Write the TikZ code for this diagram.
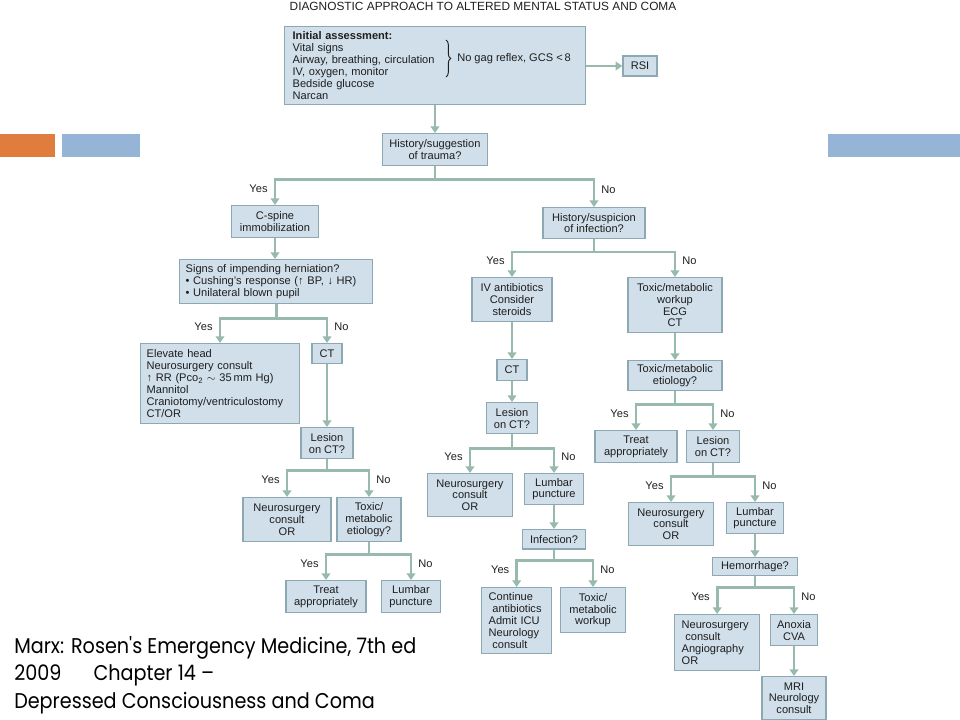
\documentclass[tikz,border=0pt]{standalone}
\usepackage{fontspec}
\setmainfont{Liberation Sans}
\newfontfamily\citefont[FakeStretch=0.9]{Poppins}
\usetikzlibrary{arrows.meta,decorations.pathreplacing}

\definecolor{boxfill}{RGB}{208,223,234}
\definecolor{boxline}{RGB}{140,168,178}
\definecolor{flowline}{RGB}{152,186,172}
\definecolor{textgray}{RGB}{30,30,30}
\definecolor{barorange}{RGB}{224,125,62}
\definecolor{barblue}{RGB}{150,180,214}

\begin{document}
\begin{tikzpicture}[
        x=0.75pt, y=-0.75pt,
        font=\fontsize{8.3}{8.9}\selectfont,
        every node/.style={text=textgray},
        box/.style={draw=boxline, fill=boxfill, line width=1pt, align=center, inner sep=0pt},
        lbox/.style={box, align=left, anchor=north west, inner ysep=0pt},
        arrow/.style={-{Triangle[width=6.5pt,length=5pt]}, draw=flowline, line width=2.2pt},
        yes/.style={pos=0.68, left, inner xsep=4.5pt},
        no/.style={pos=0.68, right, inner xsep=4.5pt}
    ]
    \useasboundingbox (0,0) rectangle (960,720);

    % Slide bars
    \fill[barorange] (0,134) rectangle (55,157);
    \fill[barblue] (62,134) rectangle (140,157);
    \fill[barblue] (828,134) rectangle (960,157);

    % Title
    \node[font=\fontsize{8.9}{10}\selectfont] (title) at (483,6) {DIAGNOSTIC APPROACH TO ALTERED MENTAL STATUS AND COMA};

    % Initial assessment
    \node[lbox, text width=213.75pt, inner xsep=6pt, minimum height=58.5pt] (init) at (284,26)
        {\textbf{Initial assessment:}\\Vital signs\\Airway, breathing, circulation\\IV, oxygen, monitor\\Bedside glucose\\Narcan};
    \draw[decorate, decoration={brace, amplitude=3.5pt}, line width=0.7pt, textgray] (446,40) -- (446,77);
    \node[anchor=west, inner sep=0pt] (gag) at (457,59) {No gag reflex, GCS <\,8};
    \node[box, minimum width=25.5pt, minimum height=15pt] (rsi) at (640,66) {RSI};
    \draw[arrow] (init.east |- rsi) -- (rsi.west);

    % Trauma?
    \node[box, anchor=north, minimum width=78.75pt, minimum height=24pt] (trauma) at (435,133) {History/suggestion\\of trauma?};
    \draw[arrow] (init.south -| trauma) -- (trauma.north);

    % Trauma: yes
    \node[box, anchor=north, minimum width=65.25pt, minimum height=24pt] (cspine) at (275,205) {C-spine\\immobilization};
    \node[lbox, text width=135.75pt, inner xsep=4.5pt, minimum height=33pt] (hern) at (179,259)
        {Signs of impending herniation?\\• Cushing's response (↑ BP, ↓ HR)\\• Unilateral blown pupil};
    \node[lbox, text width=110pt, inner xsep=4.5pt, minimum height=60pt] (elev) at (140,343)
        {Elevate head\\Neurosurgery consult\\↑ RR (Pco\textsubscript{2} $\sim$ 35\,mm Hg)\\Mannitol\\Craniotomy/ventriculostomy\\CT/OR};
    \node[box, anchor=north, minimum width=22.5pt, minimum height=15pt] (ct1) at (327,343) {CT};
    \node[box, anchor=north, minimum width=39pt, minimum height=23.25pt] (lesion1) at (327,427) {Lesion\\on CT?};
    \node[box, anchor=north, minimum width=66pt, minimum height=33pt] (nsc1) at (287,497) {Neurosurgery\\consult\\OR};
    \node[box, anchor=north, minimum width=48pt, minimum height=33pt] (tox1) at (369,497) {Toxic/\\metabolic\\etiology?};
    \node[box, anchor=north, minimum width=60pt, minimum height=24pt] (treat1) at (326,580) {Treat\\appropriately};
    \node[box, anchor=north, minimum width=44.25pt, minimum height=24pt] (lp1) at (411,580) {Lumbar\\puncture};

    \draw[arrow] (trauma.south) -- ++(0,13) -| node[yes] (y1) {Yes} (cspine.north);
    \draw[arrow] (cspine.south) -- (cspine.south |- hern.north);
    \draw[arrow] (hern.south) -- ++(0,14) -| node[yes] (y2) {Yes} (elev.north);
    \draw[arrow] (hern.south) -- ++(0,14) -| node[no] (n2) {No} (ct1.north);
    \draw[arrow] (ct1.south) -- (lesion1.north);
    \draw[arrow] (lesion1.south) -- ++(0,11) -| node[yes] (y3) {Yes} (nsc1.north);
    \draw[arrow] (lesion1.south) -- ++(0,11) -| node[no] (n3) {No} (tox1.north);
    \draw[arrow] (tox1.south) -- ++(0,12) -| node[yes] (y4) {Yes} (treat1.north);
    \draw[arrow] (tox1.south) -- ++(0,12) -| node[no] (n4) {No} (lp1.north);

    % Trauma: no
    \node[box, anchor=north, minimum width=76.5pt, minimum height=23pt] (infect) at (594,207) {History/suspicion\\of infection?};
    \draw[arrow] (trauma.south) -- ++(0,13) -| node[no] (n1) {No} (infect.north);

    % Infection: yes
    \node[box, anchor=north, minimum width=60pt, minimum height=33pt] (ivab) at (512,277) {IV antibiotics\\Consider\\steroids};
    \node[box, anchor=north, minimum width=22.5pt, minimum height=15.75pt] (ct2) at (512,359) {CT};
    \node[box, anchor=north, minimum width=38.25pt, minimum height=23.25pt] (lesion2) at (512,402) {Lesion\\on CT?};
    \node[box, anchor=north, minimum width=63.75pt, minimum height=32.25pt] (nsc2) at (470,473) {Neurosurgery\\consult\\OR};
    \node[box, anchor=north, minimum width=44.25pt, minimum height=23.25pt] (lp2) at (554,473) {Lumbar\\puncture};
    \node[box, anchor=north, minimum width=47.25pt, minimum height=14.5pt] (inf2) at (554,529) {Infection?};
    \node[lbox, text width=42pt, inner xsep=5.25pt, minimum height=49.5pt] (cont) at (481,587)
        {Continue\\\ antibiotics\\Admit ICU\\Neurology\\\ consult};
    \node[box, anchor=north, minimum width=48.75pt, minimum height=33.75pt] (tox3) at (593,587) {Toxic/\\metabolic\\workup};

    \draw[arrow] (infect.south) -- ++(0,13) -| node[yes] (y5) {Yes} (ivab.north);
    \draw[arrow] (ivab.south) -- (ct2.north);
    \draw[arrow] (ct2.south) -- (lesion2.north);
    \draw[arrow] (lesion2.south) -- ++(0,14) -| node[yes] (y6) {Yes} (nsc2.north);
    \draw[arrow] (lesion2.south) -- ++(0,14) -| node[no] (n6) {No} (lp2.north);
    \draw[arrow] (lp2.south) -- (inf2.north);
    \draw[arrow] (inf2.south) -- ++(0,11) -| node[yes] (y7) {Yes} (cont.north);
    \draw[arrow] (inf2.south) -- ++(0,11) -| node[no] (n7) {No} (tox3.north);

    % Infection: no
    \node[box, anchor=north, minimum width=70.5pt, minimum height=41.25pt] (toxw) at (675,277) {Toxic/metabolic\\workup\\ECG\\CT};
    \node[box, anchor=north, minimum width=70.5pt, minimum height=22.5pt] (etio) at (675,360) {Toxic/metabolic\\etiology?};
    \node[box, anchor=north, minimum width=61.5pt, minimum height=24pt] (treat2) at (636,430) {Treat\\appropriately};
    \node[box, anchor=north, minimum width=39.75pt, minimum height=24pt] (lesion3) at (713,430) {Lesion\\on CT?};
    \node[box, anchor=north, minimum width=63.75pt, minimum height=32.25pt] (nsc3) at (671,502) {Neurosurgery\\consult\\OR};
    \node[box, anchor=north, minimum width=42.75pt, minimum height=23.25pt] (lp3) at (755,502) {Lumbar\\puncture};
    \node[box, anchor=north, minimum width=63.75pt, minimum height=13.5pt] (hem) at (755,557) {Hemorrhage?};
    \node[lbox, text width=53.25pt, inner xsep=5.25pt, minimum height=42pt] (nsc4) at (674,614)
        {Neurosurgery\\\ consult\\Angiography\\OR};
    \node[box, anchor=north, minimum width=35.25pt, minimum height=23.25pt] (anox) at (794,614) {Anoxia\\CVA};
    \node[box, anchor=north, minimum width=48pt, minimum height=32.25pt] (mri) at (794,676) {MRI\\Neurology\\consult};

    \draw[arrow] (infect.south) -- ++(0,13) -| node[no] (n5) {No} (toxw.north);
    \draw[arrow] (toxw.south) -- (etio.north);
    \draw[arrow] (etio.south) -- ++(0,13) -| node[yes] (y8) {Yes} (treat2.north);
    \draw[arrow] (etio.south) -- ++(0,13) -| node[no] (n8) {No} (lesion3.north);
    \draw[arrow] (lesion3.south) -- ++(0,13) -| node[yes] (y9) {Yes} (nsc3.north);
    \draw[arrow] (lesion3.south) -- ++(0,13) -| node[no] (n9) {No} (lp3.north);
    \draw[arrow] (lp3.south) -- (hem.north);
    \draw[arrow] (hem.south) -- ++(0,11) -| node[yes] (y10) {Yes} (nsc4.north);
    \draw[arrow] (hem.south) -- ++(0,11) -| node[no] (n10) {No} (anox.north);
    \draw[arrow] (anox.south) -- (mri.north);

    % Source
    \node[anchor=north west, inner sep=0pt, align=left, text=black, font=\citefont\fontsize{16}{20.6}\selectfont] (cite) at (14,636)
        {Marx: Rosen's Emergency Medicine, 7th ed\\2009\hspace{1.5em}Chapter 14 –\\Depressed Consciousness and Coma};
\end{tikzpicture}
\end{document}
